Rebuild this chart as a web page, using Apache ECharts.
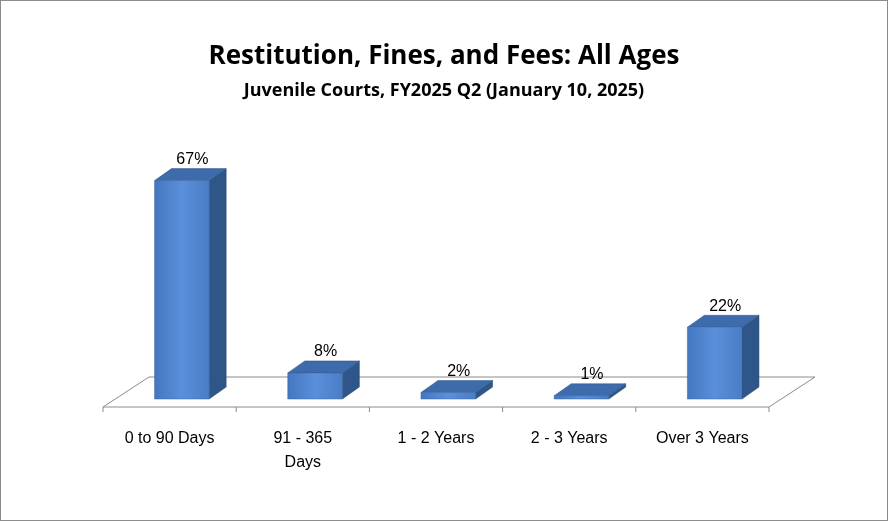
<!DOCTYPE html>
<html><head><meta charset="utf-8">
<script src="https://cdn.jsdelivr.net/npm/echarts@6/dist/echarts.min.js"></script>
<style>body{margin:0}#c{width:886px;height:519px;border:1px solid #8c8c8c}</style>
</head><body><div id="c"></div>
<script>
var categories = ['0 to 90 Days', '91 - 365\nDays', '1 - 2 Years', '2 - 3 Years', 'Over 3 Years'];
var values = [67, 8, 2, 1, 22];

var chart = echarts.init(document.getElementById('c'));
// 3d offsets
var dx = 17, dy = -12;       // bar depth
var fdx = 46, fdy = -30;     // floor depth
var shift = 8;               // floor front edge sits below the bar bases

function renderBar(params, api) {
	var i = api.value(0), v = api.value(1);
	var top = api.coord([i, v]), base = api.coord([i, 0]);
	var band = api.size([1, 0])[0];
	var w = band * 0.41;
	var x0 = top[0] - w / 2 + shift * fdx / -fdy, x1 = x0 + w;
	var yb = base[1], yt = top[1];
	return {
		type: 'group',
		children: [
			{ type: 'polygon', shape: { points: [[x1, yb], [x1 + dx, yb + dy], [x1 + dx, yt + dy], [x1, yt]] }, style: { fill: '#2f5689', stroke: '#27476f', lineWidth: 0.5 } },
			{ type: 'polygon', shape: { points: [[x0, yt], [x1, yt], [x1 + dx, yt + dy], [x0 + dx, yt + dy]] }, style: { fill: '#3d6bab', stroke: '#2f5689', lineWidth: 0.5 } },
			{ type: 'rect', shape: { x: x0, y: yt, width: w, height: yb - yt }, style: { fill: new echarts.graphic.LinearGradient(0, 0, 1, 0, [{ offset: 0, color: '#4577c0' }, { offset: 0.5, color: '#5a8fdb' }, { offset: 1, color: '#4a7dc6' }]), stroke: '#3a64a0', lineWidth: 0.5 } },
			{ type: 'text', x: x0 + w / 2 + dx / 2 + 2, y: yt + dy - 1, style: { text: v + '%', font: '16px "Liberation Sans"', fill: '#000', align: 'center', verticalAlign: 'bottom' } }
		]
	};
}

function renderFloor(params, api) {
	var a = api.coord([0, 0]), b = api.coord([categories.length - 1, 0]);
	var band = api.size([1, 0])[0];
	var xl = a[0] - band / 2, xr = b[0] + band / 2, y = a[1] + shift;
	var kids = [
		{ type: 'polygon', shape: { points: [[xl, y], [xr, y], [xr + fdx, y + fdy], [xl + fdx, y + fdy]] }, style: { fill: '#fff', stroke: '#8c8c8c', lineWidth: 1 } }
	];
	for (var k = 0; k <= categories.length; k++) {
		var x = xl + k * band;
		kids.push({ type: 'line', shape: { x1: x, y1: y, x2: x, y2: y + 5 }, style: { stroke: '#8c8c8c', lineWidth: 1 } });
	}
	return { type: 'group', children: kids };
}

chart.setOption({
	backgroundColor: '#fff',
	animation: false,
	title: {
		text: 'Restitution, Fines, and Fees: All Ages',
		subtext: 'Juvenile Courts, FY2025 Q2 (January 10, 2025)',
		left: 'center', top: 38, itemGap: 12,
		textStyle: { fontFamily: 'Open Sans', fontWeight: 'bold', fontSize: 26, color: '#000' },
		subtextStyle: { fontFamily: 'Open Sans', fontWeight: 'bold', fontSize: 18, color: '#000' }
	},
	grid: { left: 102, right: 118, top: 72, bottom: 121 },
	xAxis: {
		type: 'category', data: categories,
		axisLine: { show: false }, axisTick: { show: false },
		axisLabel: { margin: 28, fontSize: 16, lineHeight: 24, color: '#000', fontFamily: 'Liberation Sans', interval: 0, verticalAlign: 'top' }
	},
	yAxis: { type: 'value', min: 0, max: 100, show: false, splitLine: { show: false } },
	series: [
		{ type: 'custom', renderItem: renderFloor, data: [[0, 0]], z: 1, silent: true },
		{ type: 'custom', renderItem: renderBar, data: values.map(function (v, i) { return [i, v]; }), z: 2 }
	]
});
</script></body></html>
